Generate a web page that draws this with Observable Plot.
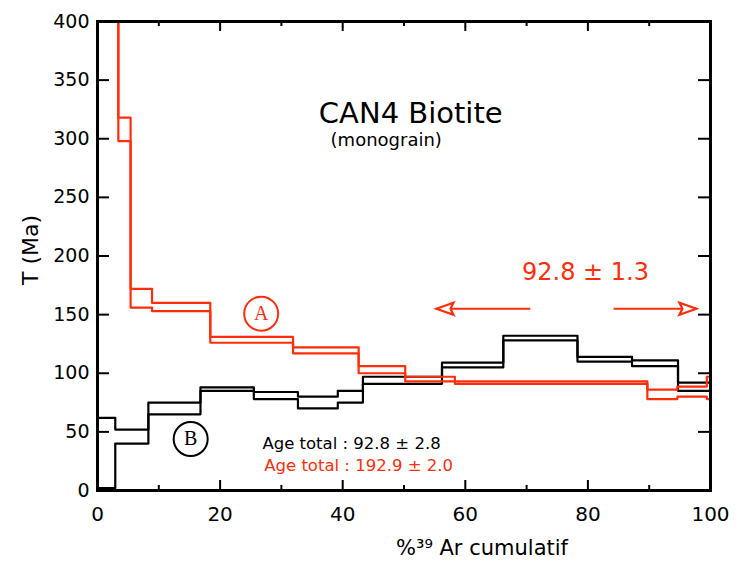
<!DOCTYPE html>
<html><head><meta charset="utf-8">
<script src="https://cdn.jsdelivr.net/npm/d3@7"></script>
<script src="https://cdn.jsdelivr.net/npm/@observablehq/plot@0.6"></script>
<style>
body{margin:0;background:#fff}
svg{font-family:"DejaVu Sans",sans-serif}
</style>
</head><body><div id="chart"></div>
<script>
// Step boundaries (% 39Ar cumulative) and age bounds (Ma) — series A (red)
const redX  = [0, 3.4, 5.4, 8.9, 18.4, 31.9, 42.6, 50.2, 58.3, 89.7, 94.6, 99.4, 100];
const redLo = [460, 298, 156, 153, 126, 117, 100, 93, 91, 78, 80, 78];
const redHi = [480, 318, 172, 160, 131, 122, 106, 97, 93, 86, 88.6, 97];
// Series B (black)
const blackX  = [0, 2.9, 8.3, 16.8, 25.5, 32.7, 39.2, 43.3, 56.2, 66.2, 78.3, 87.2, 94.7, 100];
const blackLo = [2, 40, 65, 85, 78, 70, 75, 91, 105, 128, 110, 106, 85];
const blackHi = [62, 52, 75, 88, 84, 80, 85, 97, 109, 132, 114, 111, 92];

// Axis ticks
const xMajor = [20, 40, 60, 80];
const xMinor = [10, 30, 50, 70, 90];
const xLabels = [0, 20, 40, 60, 80, 100];
const yTicks = [50, 100, 150, 200, 250, 300, 350];
const yLabels = [0, 50, 100, 150, 200, 250, 300, 350, 400];

// Annotations
const plateauLabel = "92.8 ± 1.3";
const plateauPos = [79.6, 186];
const arrowFrom = [[70.6, 155], [84.2, 155]];
const arrowTo   = [[55.3, 155], [97.7, 155]];
const circleLetters = ["A", "B"];
const circlePos = [[26.7, 150.8], [15.2, 43.9]];
const titleText = "CAN4 Biotite";
const titlePos = [51.1, 321];
const subText = "(monograin)";
const subPos = [47.1, 299];
const totals = ["Age total : 92.8 ± 2.8", "Age total : 192.9 ± 2.0"];
const totalsPos = [[26.9, 40], [27.2, 21.3]];
const xLabel = "%³⁹ Ar cumulatif";
const yLabel = "T (Ma)";

const RED = "#ff2d0a";
const W = 741, H = 566, mL = 97, mR = 31, mT = 21, mB = 76;
const iw = W - mL - mR, ih = H - mT - mB;

function steps(xs, vals) {
  return xs.map((x, i) => ({x, v: vals[Math.min(i, vals.length - 1)]}));
}
const circles = circleLetters.map((t, i) => ({t, x: circlePos[i][0], y: circlePos[i][1], c: i === 0 ? RED : "black"}));
const arrows = arrowFrom.map((f, i) => ({x1: f[0], y1: f[1], x2: arrowTo[i][0], y2: arrowTo[i][1],
  rot: arrowTo[i][0] < f[0] ? 90 : -90}));
const tot = totals.map((t, i) => ({t, x: totalsPos[i][0], y: totalsPos[i][1], c: i === 0 ? "black" : RED}));

// open triangular arrow head, tip at the anchor, pointing away from the shaft
const headShape = {
  draw(ctx) {
    ctx.moveTo(0, 0);
    ctx.lineTo(-6, -17);
    ctx.lineTo(0, -14);
    ctx.lineTo(6, -17);
    ctx.closePath();
  }
};

const chart = Plot.plot({
  width: W, height: H,
  marginLeft: mL, marginRight: mR, marginTop: mT, marginBottom: mB,
  x: {domain: [0, 100]},
  y: {domain: [0, 400]},
  style: {fontFamily: "DejaVu Sans, sans-serif", background: "white"},
  marks: [
    // inside ticks
    Plot.tickX(xMajor, {x: d => d, insetTop: ih - 10, stroke: "black", strokeWidth: 2}),
    Plot.tickX(xMajor, {x: d => d, insetBottom: ih - 10, stroke: "black", strokeWidth: 2}),
    Plot.tickX(xMinor, {x: d => d, insetTop: ih - 5, stroke: "black", strokeWidth: 2}),
    Plot.tickX(xMinor, {x: d => d, insetBottom: ih - 5, stroke: "black", strokeWidth: 2}),
    Plot.tickY(yTicks, {y: d => d, insetRight: iw - 12, stroke: "black", strokeWidth: 2}),
    Plot.tickY(yTicks, {y: d => d, insetLeft: iw - 12, stroke: "black", strokeWidth: 2}),
    // series B
    Plot.line(steps(blackX, blackHi), {x: "x", y: "v", curve: "step-after", stroke: "black", strokeWidth: 2.2}),
    Plot.line(steps(blackX, blackLo), {x: "x", y: "v", curve: "step-after", stroke: "black", strokeWidth: 2.2}),
    // series A
    Plot.line(steps(redX, redHi), {x: "x", y: "v", curve: "step-after", stroke: RED, strokeWidth: 2.2, clip: true}),
    Plot.line(steps(redX, redLo), {x: "x", y: "v", curve: "step-after", stroke: RED, strokeWidth: 2.2, clip: true}),
    // arrows & plateau label
    Plot.link(arrows, {x1: "x1", y1: "y1", x2: "x2", y2: "y2", stroke: RED, strokeWidth: 2.2}),
    Plot.vector(arrows, {x: "x2", y: "y2", rotate: "rot", anchor: "start", length: 17, shape: headShape,
      stroke: RED, strokeWidth: 2.2, fill: "white", strokeLinejoin: "miter"}),
    Plot.text([plateauLabel], {x: plateauPos[0], y: plateauPos[1], fill: RED, fontSize: 24}),
    // circled letters
    Plot.dot(circles, {x: "x", y: "y", r: 17, stroke: "c", strokeWidth: 2, fill: "white"}),
    Plot.text(circles, {x: "x", y: "y", text: "t", fill: "c", fontSize: 20, fontFamily: "Liberation Serif, serif"}),
    // title
    Plot.text([titleText], {x: titlePos[0], y: titlePos[1], fontSize: 29, fill: "black", letterSpacing: "2px"}),
    Plot.text([subText], {x: subPos[0], y: subPos[1], fontSize: 18, fill: "black"}),
    // totals
    Plot.text(tot, {x: "x", y: "y", text: "t", fill: "c", textAnchor: "start", fontSize: 16.5}),
    // frame
    Plot.frame({stroke: "black", strokeWidth: 3}),
    // axes labels
    Plot.axisX(xLabels, {tickSize: 0, tickPadding: 16, fontSize: 20, label: null}),
    Plot.axisY(yLabels, {tickSize: 0, tickPadding: 8, fontSize: 19, label: null}),
    Plot.text([xLabel], {frameAnchor: "bottom", textAnchor: "middle", dx: 78, dy: 64, fontSize: 21, fill: "black"}),
    Plot.text([yLabel], {frameAnchor: "left", textAnchor: "middle", rotate: -90, dx: -67, dy: -6, fontSize: 22, fill: "black"})
  ]
});
document.getElementById("chart").appendChild(chart);
</script>
</body></html>
